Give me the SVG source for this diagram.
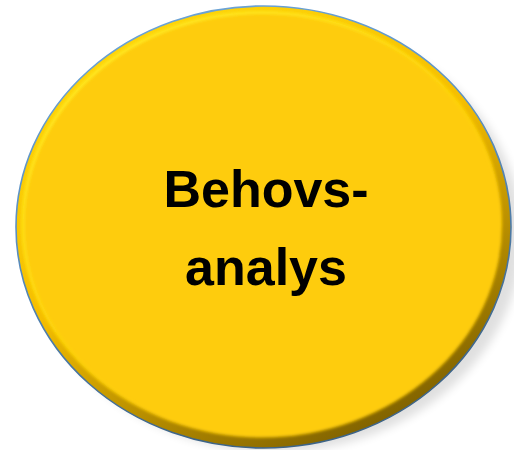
<svg xmlns="http://www.w3.org/2000/svg" width="514" height="450" viewBox="0 0 514 450">
  <defs>
    <linearGradient id="rim" x1="0.2" y1="0.05" x2="0.75" y2="1">
      <stop offset="0" stop-color="#FFD60A"/>
      <stop offset="0.45" stop-color="#F5BE00"/>
      <stop offset="0.75" stop-color="#B08800"/>
      <stop offset="1" stop-color="#765A00"/>
    </linearGradient>
    <linearGradient id="hl" x1="0.1" y1="0" x2="0.6" y2="0.7">
      <stop offset="0" stop-color="#FFF22A" stop-opacity="1"/>
      <stop offset="0.55" stop-color="#FFE818" stop-opacity="0.6"/>
      <stop offset="1" stop-color="#FFE000" stop-opacity="0"/>
    </linearGradient>
    <linearGradient id="outline" x1="0" y1="0" x2="0.3" y2="1">
      <stop offset="0" stop-color="#6FA8DC"/>
      <stop offset="0.5" stop-color="#5A8EC0"/>
      <stop offset="1" stop-color="#3D6488"/>
    </linearGradient>
    <filter id="soft" x="-10%" y="-10%" width="120%" height="120%">
      <feGaussianBlur stdDeviation="1.5"/>
    </filter>
    <filter id="shadow" x="-20%" y="-20%" width="140%" height="140%">
      <feGaussianBlur stdDeviation="5"/>
    </filter>
    <style>
      .label { font-family: "Liberation Sans", Arial, sans-serif; font-weight: bold; font-size: 52px; fill: #000; text-anchor: middle; }
    </style>
  </defs>
  <rect width="514" height="450" fill="#FFFFFF"/>
  <g id="node-behovsanalys">
    <ellipse cx="275" cy="236" rx="247" ry="216" fill="#000" opacity="0.12" filter="url(#shadow)"/>
    <ellipse cx="263.5" cy="227" rx="247.5" ry="221" fill="url(#rim)"/>
    <ellipse cx="262" cy="224.5" rx="240" ry="213" fill="#FECC07" filter="url(#soft)"/>
    <ellipse cx="262" cy="224.5" rx="239" ry="212" fill="none" stroke="url(#hl)" stroke-width="3" filter="url(#soft)"/>
    <ellipse cx="263.5" cy="227" rx="247.5" ry="221" fill="none" stroke="url(#outline)" stroke-width="1.6"/>
    <text class="label" x="266" y="207">Behovs-</text>
    <text class="label" x="266" y="285">analys</text>
  </g>
  <g id="connectors"/>
</svg>
